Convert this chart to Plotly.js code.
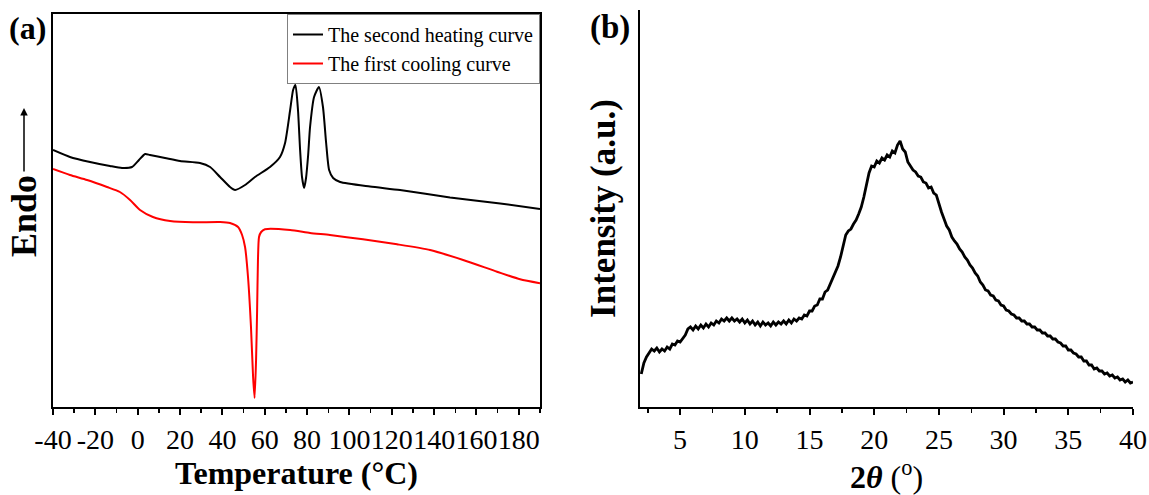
<!DOCTYPE html>
<html>
<head>
<meta charset="utf-8">
<script src="https://cdn.plot.ly/plotly-3.0.1.min.js"></script>
<style>html,body{margin:0;padding:0;background:#fff;}#chart{width:1149px;height:495px;}</style>
</head>
<body>
<div id="chart"></div>
<script>
// Panel (a): DSC curves (temperature in °C, heat flow in arbitrary units)
const heatT = [-40,-32,-22.5,-13.1,-7.4,-2.7,0.6,3.5,5.8,12.9,20,29.4,34.2,38.9,43.6,46,50.7,55.4,62.5,67.2,69.6,72,73.4,74.5,75.7,76.7,77.6,78.6,79.5,80.5,81.4,83.3,85.6,87.5,89,90.4,92.3,95.6,109.7,123.9,147.5,171.2,190];
const heatY = [257,250,245,241,239,240,247,253,252,249,246,244,240,230,220,217,222,230,240,250,264,297,317,322,297,257,230,219,229,252,280,310,320,300,264,237,229,225,220.5,217,209.5,203.5,198];
const coolT = [-40,-32,-23.9,-14.5,-8.4,-3.6,1.1,7.2,15.3,26.1,38.9,43.6,47.4,49.3,50.7,52.1,53.5,54.5,55.2,55.9,56.4,56.8,57.3,58.3,60.1,72,81.4,90.8,106.4,122.5,138.1,153.7,169.7,180.6,190];
const coolY = [238,232,227,220,215,207,197,190,186,184.7,185,184,180,172,160,130,80,30,9,47,97,147,170,175,177.7,177,174,172,167.7,162.7,157,147,135.3,127.7,123.7];
const seriesNames = ["The second heating curve", "The first cooling curve"];
const tempTickVals = [-40,-20,0,20,40,60,80,100,120,140,160,180];
const tempTickText = ["-40","-20","0","20","40","60","80","100","120","140","160","180"];

// Panel (b): XRD pattern (2θ in degrees, intensity in arbitrary units)
const twoTheta = [
  2.0,2.2,2.4,2.6,2.8,3.0,3.2,3.4,3.6,3.8,
  4.0,4.2,4.4,4.6,4.8,5.0,5.2,5.4,5.6,5.8,
  6.0,6.2,6.4,6.6,6.8,7.0,7.2,7.4,7.6,7.8,
  8.0,8.2,8.4,8.6,8.8,9.0,9.2,9.4,9.6,9.8,
  10.0,10.2,10.4,10.6,10.8,11.0,11.2,11.4,11.6,11.8,
  12.0,12.2,12.4,12.6,12.8,13.0,13.2,13.4,13.6,13.8,
  14.0,14.2,14.4,14.6,14.8,15.0,15.2,15.4,15.6,15.8,
  16.0,16.2,16.4,16.6,16.8,17.0,17.2,17.4,17.6,17.8,
  18.0,18.2,18.4,18.6,18.8,19.0,19.2,19.4,19.6,19.8,
  20.0,20.2,20.4,20.6,20.8,21.0,21.2,21.4,21.6,21.8,
  22.0,22.2,22.4,22.6,22.8,23.0,23.2,23.4,23.6,23.8,
  24.0,24.2,24.4,24.6,24.8,25.0,25.2,25.4,25.6,25.8,
  26.0,26.2,26.4,26.6,26.8,27.0,27.2,27.4,27.6,27.8,
  28.0,28.2,28.4,28.6,28.8,29.0,29.2,29.4,29.6,29.8,
  30.0,30.2,30.4,30.6,30.8,31.0,31.2,31.4,31.6,31.8,
  32.0,32.2,32.4,32.6,32.8,33.0,33.2,33.4,33.6,33.8,
  34.0,34.2,34.4,34.6,34.8,35.0,35.2,35.4,35.6,35.8,
  36.0,36.2,36.4,36.6,36.8,37.0,37.2,37.4,37.6,37.8,
  38.0,38.2,38.4,38.6,38.8,39.0,39.2,39.4,39.6,39.8,
  40.0];
const intensity = [
  33,44,50,54,58,56,59,55,58,56,
  60,58,63,62,66,65,69,72,78,80,
  77,81,78,82,79,83,80,84,82,86,
  84,88,86,89,86,89,86,88,85,88,
  84,87,83,86,82,85,81,85,82,84,
  81,85,82,85,83,86,83,87,84,88,
  86,89,88,92,91,96,96,101,102,108,
  108,115,117,123,128,135,141,150,160,172,
  176,178,183,187,193,200,210,222,234,241,
  240,246,244,249,247,252,250,256,254,262,
  266,258,255,245,241,237,235,231,230,225,
  224,219,220,214,212,203,195,188,181,177,
  170,166,163,158,155,150,147,142,139,134,
  131,125,122,117,116,112,111,107,106,102,
  101,97,96,93,92,89,89,86,86,83,
  83,80,80,77,77,74,74,71,71,68,
  68,65,64,61,61,57,57,54,53,50,
  50,46,46,42,42,38,39,36,36,33,
  34,31,32,29,30,27,28,25,27,24,
  25];

const F = "Liberation Serif, Times New Roman, serif";
const px = x => x / 1149;
const py = y => 1 - y / 495;

const traces = [
  {x: heatT, y: heatY, type: "scatter", mode: "lines", name: seriesNames[0],
   line: {color: "#000000", width: 2, shape: "spline", smoothing: 0.6}, xaxis: "x", yaxis: "y"},
  {x: coolT, y: coolY, type: "scatter", mode: "lines", name: seriesNames[1],
   line: {color: "#ff0000", width: 2, shape: "spline", smoothing: 0.6}, xaxis: "x", yaxis: "y"},
  {x: twoTheta, y: intensity, type: "scatter", mode: "lines", name: "XRD", showlegend: false,
   line: {color: "#000000", width: 2.8}, xaxis: "x2", yaxis: "y2"}
];

const layout = {
  width: 1149, height: 495,
  margin: {l: 0, r: 0, t: 0, b: 0},
  paper_bgcolor: "#ffffff", plot_bgcolor: "#ffffff",
  font: {family: F, color: "#000000", size: 28},
  showlegend: true,
  legend: {x: px(540), y: py(14), xanchor: "right", yanchor: "top",
           bgcolor: "#ffffff", bordercolor: "#808080", borderwidth: 1,
           font: {family: F, size: 20, color: "#000"}, tracegroupgap: 0},
  xaxis: {domain: [px(53), px(540)], range: [-40, 190], anchor: "y",
          tickmode: "array", tickvals: tempTickVals, ticktext: tempTickText,
          tickangle: 0, ticks: "outside", ticklen: 6, tickwidth: 2, tickcolor: "#000",
          minor: {tickmode: "linear", tick0: -40, dtick: 10, ticks: "outside", ticklen: 4, tickwidth: 1.5, tickcolor: "#000"},
          showline: true, linecolor: "#000", linewidth: 2, mirror: true,
          showgrid: false, zeroline: false,
          tickfont: {family: F, size: 28, color: "#000"},
          title: {text: "<b>Temperature (°C)</b>", font: {family: F, size: 32, color: "#000"}, standoff: 8}},
  yaxis: {domain: [py(407), py(14)], range: [0, 393], anchor: "x",
          showline: true, linecolor: "#000", linewidth: 2, mirror: true,
          ticks: "", showticklabels: false, showgrid: false, zeroline: false},
  xaxis2: {domain: [px(640), px(1133)], range: [1.9, 40], anchor: "y2",
           tick0: 0, dtick: 5, tickangle: 0, ticks: "outside", ticklen: 6, tickwidth: 2, tickcolor: "#000",
           minor: {dtick: 2.5, ticks: "outside", ticklen: 4, tickwidth: 1.5, tickcolor: "#000"},
           showline: true, linecolor: "#000", linewidth: 2, mirror: false,
           showgrid: false, zeroline: false,
           tickfont: {family: F, size: 28, color: "#000"},
           title: {text: "<b>2<i>θ</i></b> (<sup>o</sup>)", font: {family: F, size: 32, color: "#000"}, standoff: 8}},
  yaxis2: {domain: [py(407), py(10)], range: [0, 397], anchor: "x2",
           showline: true, linecolor: "#000", linewidth: 2, mirror: false,
           ticks: "", showticklabels: false, showgrid: false, zeroline: false,
           title: {text: "<b>Intensity (a.u.)</b>", font: {family: F, size: 35, color: "#000"}, standoff: 12}},
  annotations: [
    {xref: "paper", yref: "paper", x: px(27), y: py(28), text: "<b>(a)</b>", showarrow: false,
     font: {family: F, size: 32, color: "#000"}, xanchor: "center", yanchor: "middle"},
    {xref: "paper", yref: "paper", x: px(610), y: py(27), text: "<b>(b)</b>", showarrow: false,
     font: {family: F, size: 33, color: "#000"}, xanchor: "center", yanchor: "middle"},
    {xref: "paper", yref: "paper", x: px(24), y: py(216), text: "<b>Endo</b>", textangle: -90, showarrow: false,
     font: {family: F, size: 36, color: "#000"}, xanchor: "center", yanchor: "middle"},
    {xref: "paper", yref: "paper", x: px(24), y: py(108), ax: px(24), ay: py(173), axref: "paper", ayref: "paper",
     text: "", showarrow: true, arrowhead: 2, arrowsize: 1, arrowwidth: 1.5, arrowcolor: "#000"}
  ]
};

Plotly.newPlot("chart", traces, layout, {displayModeBar: false, staticPlot: true});
</script>
</body>
</html>
